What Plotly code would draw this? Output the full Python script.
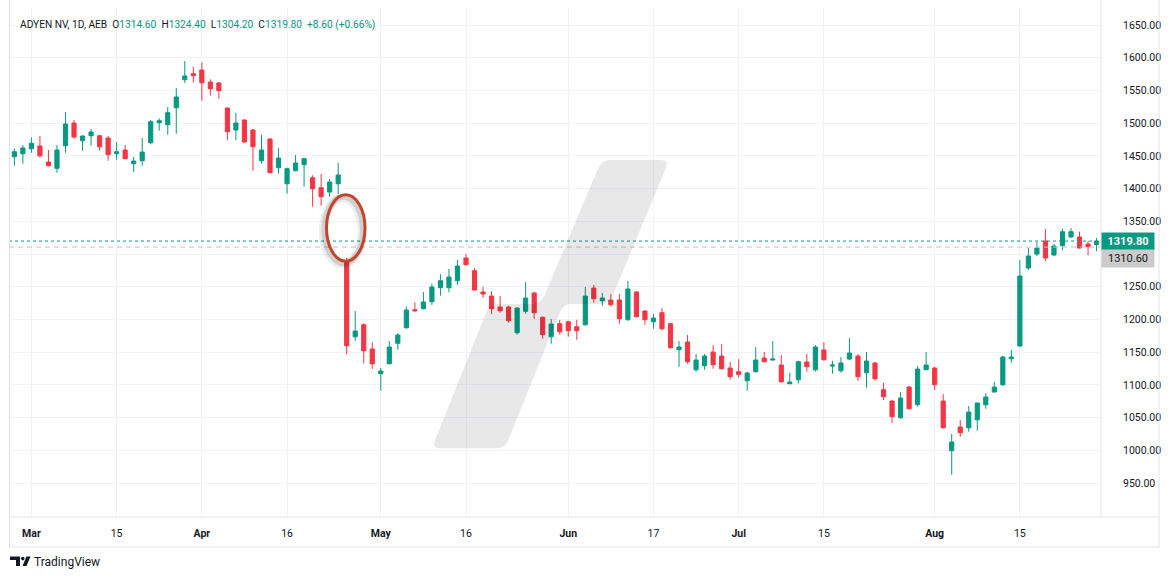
import pandas as pd
import plotly.graph_objects as go

# ---------------- data ----------------
dates = [d.strftime("%Y-%m-%d") for d in pd.bdate_range(
    "2024-02-28", "2024-08-28", freq="C",
    holidays=["2024-03-29", "2024-04-01", "2024-05-01"])]

opens = [1448.7, 1453.3, 1460.9, 1465.0, 1440.6, 1431.0, 1465.5, 1500.2, 1473.2, 1480.8,
         1480.8, 1477.3, 1453.3, 1459.0, 1438.0, 1442.6, 1470.1, 1500.7, 1497.6, 1523.6,
         1566.4, 1575.6, 1581.2, 1562.9, 1561.4, 1523.1, 1489.5, 1504.8, 1489.5, 1442.6,
         1475.8, 1431.9, 1407.4, 1427.3, 1436.5, 1416.6, 1401.3, 1394.8, 1407.4, 1289.3,
         1173.6, 1191.9, 1154.8, 1117.1, 1132.3, 1163.5, 1187.4, 1214.9, 1216.4, 1227.1,
         1248.5, 1248.5, 1259.2, 1293.9, 1274.5, 1241.9, 1235.8, 1219.0, 1219.0, 1179.7,
         1212.4, 1240.4, 1203.3, 1173.6, 1193.5, 1196.5, 1188.9, 1191.9, 1248.0, 1228.6,
         1229.7, 1229.7, 1199.6, 1241.9, 1212.9, 1196.5, 1210.3, 1193.5, 1153.7, 1165.5,
         1123.2, 1129.3, 1150.2, 1144.1, 1125.8, 1120.1, 1106.4, 1120.1, 1141.0, 1138.0,
         1130.3, 1101.8, 1107.9, 1134.9, 1123.2, 1153.3, 1128.8, 1121.6, 1139.5, 1144.1,
         1118.6, 1133.4, 1092.6, 1075.3, 1049.8, 1096.7, 1069.7, 1123.2, 1125.8, 1075.3,
         999.4, 1035.6, 1034.5, 1046.7, 1069.7, 1089.1, 1100.2, 1140.0, 1159.4, 1278.6,
         1300.0, 1319.9, 1298.5, 1312.7, 1326.0, 1326.0, 1315.3, 1314.6]
highs = [1461.5, 1466.6, 1478.4, 1480.3, 1459.0, 1466.6, 1517.0, 1504.8, 1481.5, 1491.0,
         1482.0, 1480.3, 1471.2, 1466.6, 1448.3, 1477.3, 1504.8, 1507.4, 1524.7, 1553.7,
         1595.0, 1585.8, 1593.0, 1567.0, 1562.9, 1524.0, 1516.0, 1506.0, 1491.0, 1482.0,
         1476.8, 1462.0, 1431.9, 1451.3, 1447.2, 1420.3, 1422.3, 1414.6, 1439.1, 1294.3,
         1212.9, 1194.1, 1165.0, 1125.8, 1167.0, 1179.2, 1220.0, 1226.2, 1241.9, 1254.6,
         1269.4, 1277.1, 1290.8, 1300.0, 1278.6, 1250.0, 1243.4, 1235.8, 1221.0, 1218.5,
         1257.2, 1242.4, 1204.5, 1200.6, 1199.0, 1198.0, 1199.6, 1249.6, 1252.6, 1240.4,
         1238.9, 1238.9, 1258.7, 1243.4, 1214.4, 1208.3, 1217.5, 1194.5, 1167.0, 1176.2,
         1147.2, 1147.2, 1160.5, 1162.0, 1135.0, 1139.5, 1120.0, 1157.9, 1150.2, 1167.0,
         1145.6, 1118.6, 1136.5, 1147.2, 1160.9, 1165.5, 1137.0, 1142.6, 1171.4, 1147.2,
         1150.2, 1135.0, 1103.3, 1076.5, 1089.1, 1098.3, 1128.8, 1150.2, 1127.3, 1086.0,
         1025.0, 1046.3, 1067.7, 1073.0, 1087.5, 1104.4, 1144.6, 1153.3, 1290.8, 1309.2,
         1318.3, 1338.2, 1315.3, 1338.7, 1339.7, 1334.1, 1319.9, 1324.4]
lows = [1435.0, 1438.0, 1454.8, 1447.2, 1434.0, 1424.3, 1454.8, 1476.0, 1457.9, 1465.5,
        1457.9, 1442.6, 1444.0, 1445.0, 1425.3, 1435.0, 1467.7, 1488.4, 1482.3, 1483.9,
        1561.4, 1561.8, 1534.3, 1542.0, 1537.4, 1474.0, 1474.0, 1470.0, 1427.3, 1438.0,
        1423.3, 1422.7, 1392.2, 1426.5, 1402.9, 1372.3, 1373.8, 1387.6, 1391.7, 1146.7,
        1167.0, 1132.9, 1124.2, 1091.0, 1131.5, 1153.7, 1185.8, 1211.8, 1215.5, 1222.0,
        1236.3, 1241.5, 1252.6, 1283.0, 1243.9, 1233.2, 1208.3, 1210.3, 1195.0, 1176.7,
        1208.7, 1201.0, 1170.5, 1162.9, 1176.7, 1173.6, 1169.0, 1190.5, 1225.6, 1221.0,
        1219.5, 1193.5, 1198.0, 1203.0, 1192.0, 1185.8, 1182.8, 1155.5, 1127.7, 1132.3,
        1120.1, 1123.2, 1124.7, 1123.5, 1108.0, 1111.0, 1091.0, 1119.0, 1134.5, 1137.5,
        1103.5, 1101.0, 1101.8, 1120.1, 1120.1, 1137.5, 1117.0, 1118.6, 1138.0, 1106.4,
        1095.7, 1106.4, 1076.8, 1042.2, 1048.3, 1062.5, 1066.6, 1122.5, 1092.1, 1033.0,
        962.7, 1020.8, 1028.4, 1029.9, 1063.5, 1088.5, 1098.7, 1133.9, 1158.5, 1275.5,
        1297.0, 1289.3, 1297.0, 1305.8, 1325.0, 1308.5, 1298.5, 1304.2]
closes = [1456.4, 1462.0, 1469.2, 1450.2, 1435.0, 1459.0, 1498.7, 1478.8, 1480.3, 1486.5,
          1464.0, 1451.8, 1456.4, 1445.7, 1442.1, 1455.9, 1502.2, 1503.7, 1516.0, 1540.0,
          1572.1, 1572.5, 1561.8, 1552.6, 1549.6, 1486.9, 1500.2, 1471.2, 1464.0, 1459.0,
          1424.3, 1446.7, 1430.4, 1439.1, 1445.7, 1399.8, 1387.6, 1410.0, 1420.7, 1159.8,
          1182.3, 1152.2, 1132.3, 1121.2, 1157.9, 1176.2, 1214.4, 1213.3, 1226.6, 1249.6,
          1259.2, 1264.8, 1281.7, 1283.7, 1245.0, 1238.9, 1216.4, 1213.3, 1198.0, 1217.5,
          1232.7, 1210.3, 1176.7, 1193.0, 1181.2, 1182.8, 1182.8, 1235.8, 1231.7, 1232.7,
          1222.5, 1201.1, 1246.5, 1204.2, 1199.6, 1202.2, 1185.8, 1156.8, 1157.9, 1135.4,
          1138.0, 1144.1, 1130.8, 1124.7, 1112.5, 1116.1, 1118.1, 1138.0, 1135.4, 1139.5,
          1104.8, 1104.4, 1135.4, 1127.7, 1157.9, 1138.4, 1130.3, 1133.4, 1148.7, 1112.5,
          1136.5, 1109.4, 1081.9, 1051.3, 1079.9, 1063.5, 1124.2, 1130.3, 1100.2, 1034.5,
          1012.7, 1026.9, 1058.5, 1072.3, 1081.4, 1096.7, 1142.6, 1142.6, 1266.4, 1297.0,
          1309.2, 1293.9, 1312.2, 1334.1, 1334.1, 1309.2, 1311.2, 1319.8]

x_tick_dates = ["2024-03-01", "2024-03-15", "2024-04-02", "2024-04-16", "2024-05-02",
                "2024-05-16", "2024-06-03", "2024-06-17", "2024-07-01", "2024-07-15",
                "2024-08-01", "2024-08-15"]
x_tick_labels = ["<b>Mar</b>", "15", "<b>Apr</b>", "16", "<b>May</b>", "16",
                 "<b>Jun</b>", "17", "<b>Jul</b>", "15", "<b>Aug</b>", "15"]
y_ticks = [950, 1000, 1050, 1100, 1150, 1200, 1250, 1300, 1350, 1400, 1450, 1500,
           1550, 1600, 1650]
# the 1300.00 label is hidden behind the price tags in the reference
y_tick_labels = ["950.00", "1000.00", "1050.00", "1100.00", "1150.00", "1200.00",
                 "1250.00", "", "1350.00", "1400.00", "1450.00", "1500.00",
                 "1550.00", "1600.00", "1650.00"]
last_price = 1319.80
prev_price = 1310.60

GREEN = "#089981"
RED = "#f23645"
TXT = "#131722"
GRID = "#f0f3fa"
BORDER = "#e0e3eb"
FONT = "Roboto, sans-serif"

# ---------------- geometry helpers (pixels -> paper) ----------------
W, H = 1171, 579
L, R, T, B = 9, 1101, 8, 517


def px(x):
    return (x - L) / (R - L)


def py(y):
    return (B - y) / (B - T)


def rounded_path(pts, r):
    import math
    n = len(pts)
    segs = []
    for i in range(n):
        p0 = pts[i - 1]
        p1 = pts[i]
        p2 = pts[(i + 1) % n]
        d1 = math.hypot(p0[0] - p1[0], p0[1] - p1[1])
        d2 = math.hypot(p2[0] - p1[0], p2[1] - p1[1])
        a = (p1[0] + (p0[0] - p1[0]) * r / d1, p1[1] + (p0[1] - p1[1]) * r / d1)
        b = (p1[0] + (p2[0] - p1[0]) * r / d2, p1[1] + (p2[1] - p1[1]) * r / d2)
        segs.append((a, p1, b))
    s = "M %.5f,%.5f " % (px(segs[0][0][0]), py(segs[0][0][1]))
    for k, (a, c, b) in enumerate(segs):
        if k > 0:
            s += "L %.5f,%.5f " % (px(a[0]), py(a[1]))
        s += "Q %.5f,%.5f %.5f,%.5f " % (px(c[0]), py(c[1]), px(b[0]), py(b[1]))
    s += "Z"
    return s


fig = go.Figure()
fig.add_trace(go.Candlestick(
    x=dates, open=opens, high=highs, low=lows, close=closes,
    increasing=dict(line=dict(color=GREEN, width=1), fillcolor=GREEN),
    decreasing=dict(line=dict(color=RED, width=1), fillcolor=RED),
    whiskerwidth=0, hoverinfo="skip", showlegend=False,
))

shapes = []
# price lines
shapes.append(dict(type="line", xref="paper", yref="y", x0=0, x1=1,
                   y0=last_price, y1=last_price,
                   line=dict(color=GREEN, width=1, dash="dot"), layer="above"))
shapes.append(dict(type="line", xref="paper", yref="y", x0=0, x1=1,
                   y0=prev_price, y1=prev_price,
                   line=dict(color="#c3c3c3", width=1, dash="5px,4px"), layer="above"))

# watermark (two offset slanted bands)
wm = [(431.7, 448.3), (489.7, 304.0), (540.7, 304.0), (601.7, 160.0),
      (669.3, 160.0), (609.3, 304.0), (563.3, 304.0), (505.0, 448.3)]
shapes.append(dict(type="path", xref="paper", yref="paper", path=rounded_path(wm, 9),
                   fillcolor="rgba(0,0,0,0.09)", line=dict(width=0), layer="above"))

# highlight ellipse with soft shadow
for dx, dy, w, col in [(-3, 3, 9, "rgba(0,0,0,0.07)"), (-2, 2, 6, "rgba(0,0,0,0.12)"),
                       (0, 0, 3, "#c1462b")]:
    shapes.append(dict(type="circle", xref="paper", yref="paper",
                       x0=px(326.5 + dx), x1=px(365 + dx),
                       y0=py(261.2 + dy), y1=py(194.8 + dy),
                       line=dict(color=col, width=w), layer="above"))

# frame lines (pixel based)
def hline(y, x0, x1):
    shapes.append(dict(type="line", xref="paper", yref="paper", x0=px(x0), x1=px(x1),
                       y0=py(y), y1=py(y), line=dict(color=BORDER, width=1), layer="above"))


def vline(x, y0, y1):
    shapes.append(dict(type="line", xref="paper", yref="paper", x0=px(x), x1=px(x),
                       y0=py(y0), y1=py(y1), line=dict(color=BORDER, width=1), layer="above"))


hline(517, 9, 1159)
hline(547, 9, 1159)
vline(9.5, 0, 547)
vline(1101, 0, 517)
vline(1159, 0, 547)

# TradingView logo glyph
shapes.append(dict(type="path", xref="paper", yref="paper",
                   path="M %f,%f L %f,%f L %f,%f L %f,%f L %f,%f L %f,%f Z" % (
                       px(10), py(556.5), px(20), py(556.5), px(20), py(566),
                       px(16), py(566), px(16), py(560), px(10), py(560)),
                   fillcolor=TXT, line=dict(width=0)))
shapes.append(dict(type="circle", xref="paper", yref="paper",
                   x0=px(21), x1=px(24.6), y0=py(560.4), y1=py(556.8),
                   fillcolor=TXT, line=dict(width=0)))
shapes.append(dict(type="path", xref="paper", yref="paper",
                   path="M %f,%f L %f,%f L %f,%f L %f,%f Z" % (
                       px(22.5), py(566), px(26.5), py(566), px(30.5), py(556.5),
                       px(26.5), py(556.5)),
                   fillcolor=TXT, line=dict(width=0)))

annotations = []
hdr = ("ADYEN NV, 1D, AEB  O<span style='color:%s'>1314.60</span>  "
       "H<span style='color:%s'>1324.40</span>  L<span style='color:%s'>1304.20</span>  "
       "C<span style='color:%s'>1319.80</span>  <span style='color:%s'>+8.60 (+0.66%%)</span>"
       % (GREEN, GREEN, GREEN, GREEN, GREEN))
annotations.append(dict(text=hdr, xref="paper", yref="paper", x=px(18), y=py(25),
                        xanchor="left", yanchor="middle", showarrow=False,
                        font=dict(family=FONT, size=10.2, color=TXT)))
annotations.append(dict(text="TradingView", xref="paper", yref="paper", x=px(32), y=py(561.5),
                        xanchor="left", yanchor="middle", showarrow=False,
                        font=dict(family=FONT, size=12, color=TXT)))
annotations.append(dict(text="<b>%.2f</b>" % last_price, xref="paper", yref="y", x=1,
                        y=last_price, xanchor="left", yanchor="middle", showarrow=False,
                        bgcolor=GREEN, width=48, height=13, borderpad=2,
                        font=dict(family=FONT, size=11, color="white")))
annotations.append(dict(text="%.2f" % prev_price, xref="paper", yref="y", x=1,
                        y=prev_price, yshift=-11, xanchor="left", yanchor="middle",
                        showarrow=False, bgcolor="#cbcbcb", width=48, height=13,
                        borderpad=2, font=dict(family=FONT, size=11, color=TXT)))

fig.update_layout(
    width=W, height=H,
    margin=dict(l=L, r=W - R, t=T, b=H - B),
    paper_bgcolor="white", plot_bgcolor="white",
    boxgap=0.3,
    showlegend=False, hovermode=False,
    font=dict(family=FONT, size=10.5, color=TXT),
    shapes=shapes, annotations=annotations,
    xaxis=dict(type="category", range=[-0.63, 127.52], rangeslider=dict(visible=False),
               tickmode="array", tickvals=x_tick_dates, ticktext=x_tick_labels,
               showgrid=True, gridcolor=GRID, gridwidth=1, zeroline=False,
               showline=False, ticks="", ticklabelstandoff=8,
               tickfont=dict(family=FONT, size=10.5, color=TXT)),
    yaxis=dict(side="right", range=[898.1, 1676.0], tickmode="array", tickvals=y_ticks,
               ticktext=y_tick_labels, showgrid=True, gridcolor=GRID, gridwidth=1,
               zeroline=False, showline=False, ticks="", ticklabelstandoff=21,
               tickfont=dict(family=FONT, size=10.5, color=TXT)),
)

fig.write_html("out.html")
